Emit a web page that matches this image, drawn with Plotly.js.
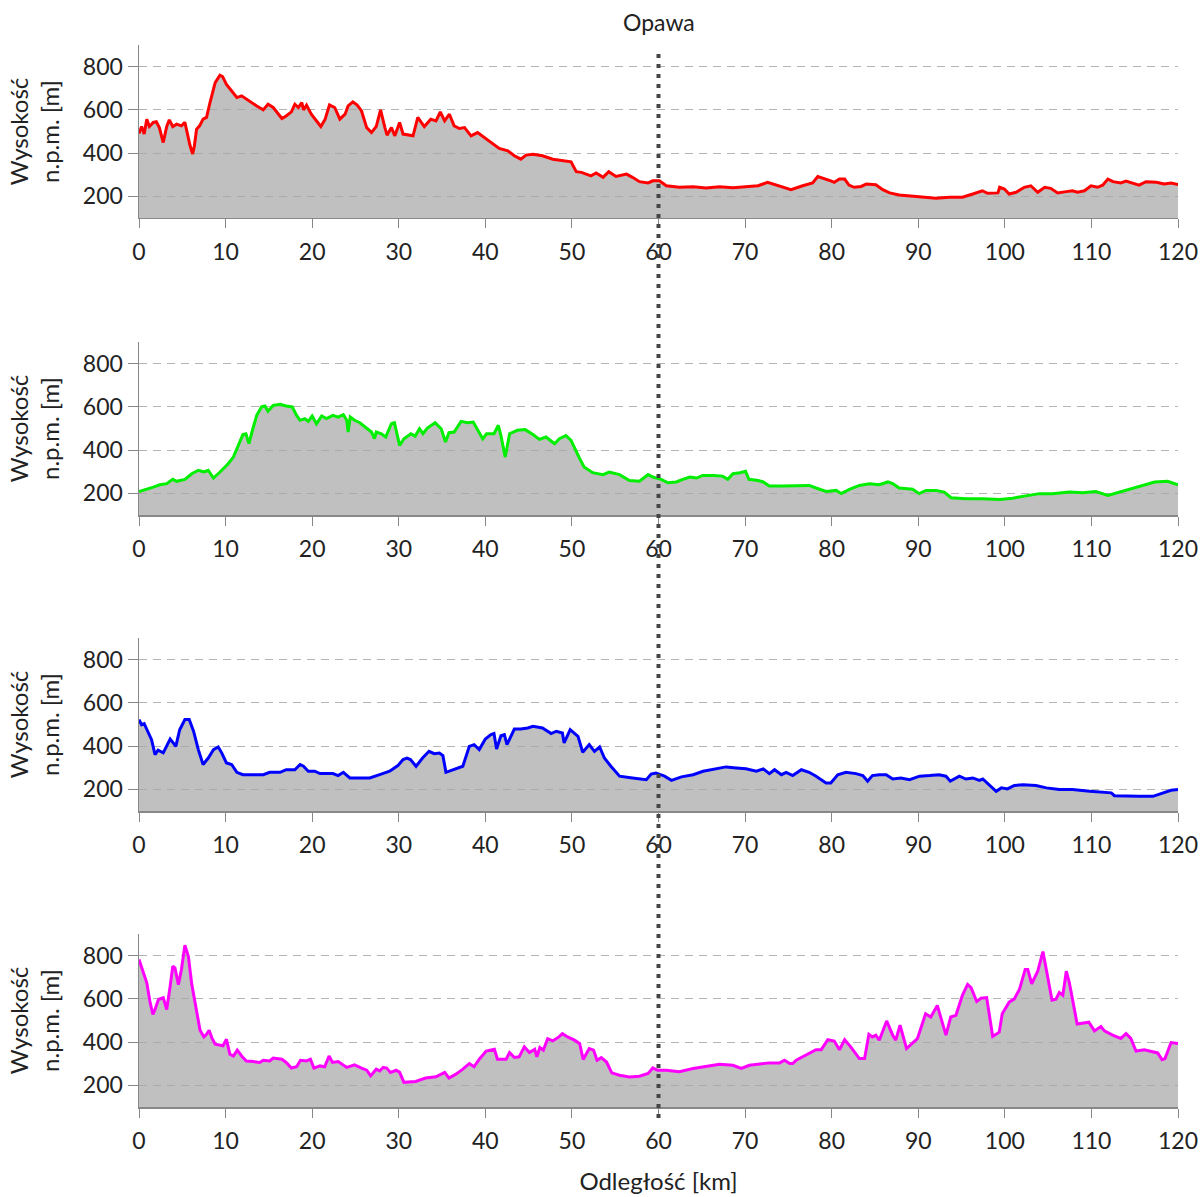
<!DOCTYPE html>
<html>
<head>
<meta charset="utf-8">
<script src="https://cdn.plot.ly/plotly-3.0.1.min.js"></script>
<style>html,body{margin:0;padding:0;background:#fff;}#chart{width:1203px;height:1197px;}</style>
</head>
<body>
<div id="chart"></div>
<script>
// ---- data (km, m n.p.m.) ----
const xTicks = [0,10,20,30,40,50,60,70,80,90,100,110,120];
const yTicks = [200,400,600,800];
const markerKm = 60;
const markerLabel = "Opawa";

const redX = [0,0.3,0.6,0.9,1.2,1.65,2.0,2.35,2.8,3.2,3.5,3.9,4.35,4.9,5.3,5.6,5.9,6.2,6.4,6.65,7.0,7.4,7.8,8.2,8.8,9.35,9.65,10.1,10.7,11.3,11.85,12.4,13.0,13.6,14.35,14.9,15.5,16.5,17.0,17.6,18.0,18.4,18.8,19.0,19.35,19.9,21.0,21.5,22.0,22.6,23.2,23.8,24.15,24.7,25.2,25.7,26.3,26.85,27.4,27.9,28.4,28.65,29.15,29.55,30.1,30.5,31.65,32.2,32.95,33.7,34.3,34.8,35.3,35.85,36.4,37.0,37.6,38.35,39.1,39.9,40.65,41.6,42.6,43.35,44.1,44.7,45.5,46.6,47.8,48.9,49.9,50.5,51.1,52.2,52.8,53.6,54.25,55.1,56.3,57.0,57.8,58.8,59.35,60.1,60.9,62.4,64.0,65.5,67.05,68.6,70.1,71.5,72.6,73.8,75.3,76.65,77.8,78.4,79.15,79.9,80.3,80.9,81.5,82.0,82.6,83.4,84.0,85.1,85.9,86.7,87.8,89.4,90.9,92.05,93.6,95.1,96.3,97.4,98.0,99.2,99.4,99.95,100.5,101.3,102.25,103.0,103.8,104.6,105.3,106.1,107.1,107.8,108.4,109.2,109.95,110.7,111.3,111.9,112.5,113.4,114.0,114.8,115.5,116.3,117.5,118.4,119.2,120];
const redY = [491,523,488,557,523,542,545,518,449,523,554,523,534,526,542,488,434,396,434,511,526,557,565,634,726,760,754,718,688,657,665,649,634,618,600,626,611,560,572,591,626,611,634,600,622,580,523,557,623,611,557,580,618,637,622,595,518,495,523,600,518,483,518,480,542,488,480,565,523,557,549,591,549,580,526,514,518,480,495,472,449,422,411,388,372,391,395,388,372,365,360,314,311,295,308,288,314,292,303,288,268,262,272,272,249,242,245,239,245,240,243,249,265,249,231,249,262,292,283,272,265,280,280,252,242,246,257,254,231,216,206,200,196,191,196,196,211,226,214,216,242,234,211,219,242,249,219,242,237,216,222,226,219,226,249,242,252,280,268,262,271,262,252,268,265,257,262,255];

const greenX = [0,0.9,1.65,2.4,3.2,3.9,4.35,5.3,6.1,6.85,7.5,8.0,8.6,9.35,10.3,10.9,11.45,12.0,12.35,12.7,13.1,13.6,14.15,14.55,14.9,15.5,16.3,17.0,17.7,18.2,18.6,19.15,19.55,20.0,20.5,21.1,21.65,22.4,23.0,23.6,24.0,24.15,24.4,24.9,25.5,26.3,26.85,27.2,27.4,28.0,28.5,29.15,29.5,30.1,30.6,31.4,31.9,32.4,32.8,33.3,33.9,34.2,34.9,35.4,35.8,36.4,37.2,37.95,38.6,39.1,39.7,40.15,41.0,41.5,41.8,42.3,42.8,43.7,44.6,45.5,46.25,47.0,48.0,48.55,49.3,49.9,50.5,50.9,51.4,52.4,53.6,54.3,55.5,56.65,57.8,58.8,59.35,60.3,61.1,62.05,62.8,63.6,64.4,65.1,66.3,67.4,68.0,68.6,69.4,70.05,70.45,71.5,72.1,72.8,74.4,75.9,77.4,78.2,79.35,80.5,81.1,82.05,83.2,84.35,85.5,86.5,87.05,87.8,89.35,90.1,90.9,92.05,93.0,93.8,95.5,97.4,99.4,100.9,102.45,104.0,105.5,107.45,109.0,110.5,111.9,113.2,114.8,116.1,117.3,118.8,120];
const greenY = [209,219,229,240,245,265,256,265,291,307,299,307,271,299,337,368,422,472,476,430,492,561,600,604,580,607,612,604,600,561,538,546,533,558,522,558,546,561,553,564,538,484,553,538,527,502,484,453,484,476,461,522,527,422,453,476,465,499,476,502,518,527,499,438,481,484,533,527,530,492,453,476,476,515,468,368,476,492,495,472,450,461,430,453,468,445,399,361,322,296,287,299,287,260,256,287,276,265,249,253,265,276,271,283,283,280,265,291,296,302,265,260,253,234,234,234,237,225,209,214,199,219,237,245,240,253,245,225,219,199,214,214,206,180,175,175,172,178,188,199,199,206,203,209,191,206,225,240,253,256,240];

const blueX = [0,0.3,0.6,1.1,1.45,1.85,2.2,2.8,3.2,3.6,3.95,4.25,4.7,5.3,5.8,6.3,6.85,7.4,8.0,8.6,9.15,9.55,10.1,10.7,11.3,12.0,13.2,14.35,15.1,16.3,17.0,18.0,18.6,19.0,19.55,20.3,20.9,22.4,23.0,23.6,24.35,25.5,26.65,27.8,28.95,29.9,30.5,30.95,31.35,32.0,32.75,33.5,34.1,34.7,35.1,35.45,36.2,37.4,38.15,38.7,39.3,40.0,40.65,41.0,41.3,41.8,42.2,42.5,43.35,44.1,44.9,45.5,46.6,47.6,48.2,48.9,49.1,49.8,50.7,51.25,52.0,52.6,53.2,53.75,54.5,55.5,57.0,58.6,59.15,59.7,60.7,61.5,62.65,64.0,65.15,66.7,67.8,69.0,70.1,71.3,72.1,72.8,73.4,74.2,74.75,75.5,76.5,77.4,78.2,79.35,79.9,80.7,81.65,82.8,83.6,84.15,84.7,85.5,86.3,87.05,88.0,89.0,90.15,91.3,92.4,93.2,93.7,94.75,95.5,96.3,97.05,97.45,98.0,99.0,99.6,100.3,101.1,102.1,103.6,104.8,106.3,107.8,109.8,111.5,112.3,112.65,114.0,115.55,117.1,118.2,119.2,120];
const blueY = [523,499,504,461,430,361,381,369,399,433,415,399,476,523,523,469,384,315,345,384,396,369,322,315,279,268,268,268,279,279,291,291,315,307,284,284,273,273,264,279,253,253,253,268,284,310,338,345,338,307,345,376,365,368,356,279,291,307,399,407,384,433,453,458,387,448,453,407,479,479,484,492,484,458,469,461,415,476,445,372,407,376,396,345,307,261,253,245,271,276,261,242,258,268,284,295,304,299,295,284,295,273,291,268,279,264,291,279,261,230,230,268,279,273,264,238,264,268,268,248,253,245,261,264,268,261,238,261,248,253,242,248,227,191,207,202,218,222,218,207,199,199,191,188,184,171,168,168,168,181,196,199];

const magentaX = [0,0.3,0.6,0.9,1.25,1.6,1.85,2.25,2.8,3.2,3.6,3.9,4.15,4.55,4.9,5.3,5.7,6.1,6.65,7.05,7.5,7.8,8.1,8.4,8.8,9.35,9.7,10.1,10.5,10.9,11.35,11.85,12.4,13.2,13.95,14.35,15.1,15.5,16.5,17.0,17.6,18.2,18.65,19.35,19.8,20.2,20.9,21.45,21.95,22.35,23.0,24.0,24.9,25.7,26.3,26.75,27.4,27.8,28.2,28.6,29.05,29.7,30.1,30.6,31.95,33.1,34.3,35.3,35.8,36.6,37.4,38.15,38.7,39.3,40.1,41.05,41.4,42.4,42.8,43.35,43.9,44.5,45.1,45.7,45.95,46.3,46.7,47.2,47.8,48.5,48.9,49.5,50.3,50.9,51.3,52.0,52.5,52.9,53.4,54.0,54.6,55.5,56.65,57.8,58.8,59.35,59.9,60.9,62.4,64.0,65.5,67.05,68.6,69.55,70.5,71.7,72.8,74.0,74.55,75.15,75.5,75.9,77.0,78.2,78.8,79.55,80.3,80.9,81.5,82.2,83.2,83.8,84.3,84.7,85.1,85.5,86.35,87.05,87.4,87.9,88.65,89.9,90.85,91.45,92.2,93.2,93.75,94.35,95.1,95.7,96.1,96.75,97.25,97.9,98.6,99.35,99.7,100.5,101.1,101.7,102.35,102.65,103.1,103.8,104.4,104.75,105.45,105.9,106.3,106.7,107.1,107.45,108.35,109.7,110.35,111.1,111.5,112.45,113.4,114.0,114.55,115.15,116.1,117.65,118.15,118.5,119.2,120];
const magentaY = [782,743,712,674,590,528,551,597,605,551,659,751,743,666,736,848,797,666,544,455,424,436,455,421,390,387,383,413,344,336,363,336,313,310,306,316,313,326,321,306,280,286,316,313,321,280,290,286,336,306,310,283,295,280,270,244,275,267,283,280,260,270,260,214,218,234,240,260,234,252,275,301,286,321,359,367,321,321,352,329,332,378,352,367,332,375,363,416,406,424,439,424,409,393,320,370,363,316,328,308,258,247,239,242,255,281,270,270,263,278,289,298,293,278,293,298,304,304,316,301,301,316,339,365,365,411,405,365,411,378,324,324,436,424,432,409,498,432,409,478,370,416,531,516,570,432,516,524,616,667,652,588,603,606,426,446,531,585,600,645,736,736,670,728,819,744,594,598,629,617,728,675,484,492,452,472,452,432,417,439,417,359,365,350,319,324,398,393];

const seriesX = [redX, greenX, blueX, magentaX];
const seriesY = [redY, greenY, blueY, magentaY];
const seriesColors = ["#ff0000", "#00ee00", "#0000ff", "#ff00ff"];

// ---- chart ----
const FONT = 'Lato, "Open Sans", "DejaVu Sans", sans-serif';
const domains = [[0.8371, 1.0], [0.5574, 0.7203], [0.2787, 0.4416], [0, 0.1629]];

const traces = seriesX.map((xs, i) => ({
  type: 'scatter', mode: 'lines',
  x: xs, y: seriesY[i],
  xaxis: i === 0 ? 'x' : 'x' + (i + 1),
  yaxis: i === 0 ? 'y' : 'y' + (i + 1),
  line: {color: seriesColors[i], width: 3},
  fill: 'tozeroy',
  fillcolor: 'rgba(165,165,165,0.7)',
  hoverinfo: 'skip'
}));

const layout = {
  width: 1203, height: 1197,
  margin: {l: 139, r: 25, t: 45, b: 90},
  paper_bgcolor: '#fff', plot_bgcolor: 'rgba(0,0,0,0)',
  showlegend: false, hovermode: false,
  font: {family: FONT, color: '#222'},
  shapes: [{
    type: 'line', xref: 'x', yref: 'paper',
    x0: markerKm, x1: markerKm, y0: -0.0104, y1: 0.9953,
    line: {color: '#444', width: 4, dash: '4px,6px'},
    layer: 'above'
  }],
  annotations: [{
    text: markerLabel, xref: 'x', yref: 'paper', x: markerKm, y: 1.0217,
    xanchor: 'center', yanchor: 'middle', showarrow: false,
    font: {family: FONT, size: 23, color: '#222'}
  }]
};

for (let i = 0; i < 4; i++) {
  const sfx = i === 0 ? '' : String(i + 1);
  layout['xaxis' + sfx] = {
    domain: [0, 1], anchor: 'y' + sfx, range: [0, 120],
    tickmode: 'array', tickvals: xTicks, ticktext: xTicks.map(String),
    ticks: 'outside', ticklen: 9, tickcolor: '#888', tickwidth: 1,
    showline: true, linecolor: '#888', linewidth: 1.5,
    showgrid: false, zeroline: false,
    tickfont: {family: FONT, size: 23, color: '#222'},
    ticklabelstandoff: 4
  };
  layout['yaxis' + sfx] = {
    domain: domains[i], anchor: 'x' + sfx, range: [100, 900],
    tickmode: 'array', tickvals: yTicks, ticktext: yTicks.map(String),
    ticks: 'outside', ticklen: 10, tickcolor: '#888', tickwidth: 1,
    showline: true, linecolor: '#888', linewidth: 1.5,
    showgrid: true, gridcolor: '#b4b4b4', gridwidth: 1, griddash: '8px,6px',
    zeroline: false,
    tickfont: {family: FONT, size: 23, color: '#222'},
    title: {text: 'Wysokość<br>n.p.m. [m]', font: {family: FONT, size: 24, color: '#222'}, standoff: 16}
  };
}
layout.xaxis4.title = {text: 'Odległość [km]', font: {family: FONT, size: 24, color: '#222'}, standoff: 20};

Plotly.newPlot('chart', traces, layout, {staticPlot: true, displayModeBar: false});
</script>
</body>
</html>
